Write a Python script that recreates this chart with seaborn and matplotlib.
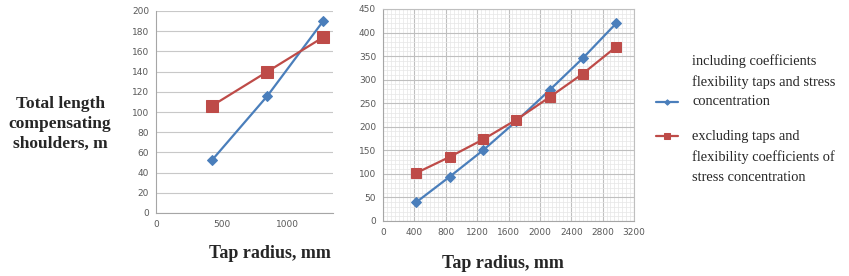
import matplotlib
matplotlib.use("Agg")
import matplotlib.pyplot as plt
import seaborn as sns
import pandas as pd
import numpy as np
from matplotlib.ticker import MultipleLocator
from matplotlib.lines import Line2D

# ---- data ----
radius_left = [425, 850, 1275]
with_coef_left = [52, 116, 190]
without_coef_left = [106, 140, 174]

radius_right = [425, 850, 1275, 1700, 2125, 2550, 2975]
with_coef_right = [40, 94, 150, 212, 278, 346, 420]
without_coef_right = [102, 136, 173, 215, 263, 313, 370]

label_with = "including coefficients\nflexibility taps and stress\nconcentration"
label_without = "excluding taps and\nflexibility coefficients of\nstress concentration"
y_label = "Total length\ncompensating\nshoulders, m"
x_label = "Tap radius, mm"

blue = "#4A7EBB"
red = "#BE4B48"

sns.set_style("white")
plt.rcParams["font.family"] = ["DejaVu Sans"]

W, H = 849, 276
fig = plt.figure(figsize=(W / 100, H / 100), dpi=100)

def px_axes(x0, x1, ytop, ybot):
    return fig.add_axes([x0 / W, 1 - ybot / H, (x1 - x0) / W, (ybot - ytop) / H])

ax1 = px_axes(156, 333, 11, 213)
ax2 = px_axes(383, 634, 9, 221)

df_left = pd.DataFrame({
    "r": radius_left * 2,
    "v": with_coef_left + without_coef_left,
    "s": [label_with] * 3 + [label_without] * 3,
})
df_right = pd.DataFrame({
    "r": radius_right * 2,
    "v": with_coef_right + without_coef_right,
    "s": [label_with] * 7 + [label_without] * 7,
})

pal = {label_with: blue, label_without: red}
mk = {label_with: "D", label_without: "s"}

for ax, df, ms in [(ax1, df_left, (5.5, 8)), (ax2, df_right, (5, 7.5))]:
    for lab in [label_with, label_without]:
        sub = df[df["s"] == lab]
        sns.lineplot(data=sub, x="r", y="v", ax=ax, color=pal[lab], marker=mk[lab],
                     markersize=ms[0] if lab == label_with else ms[1],
                     markeredgecolor=pal[lab], linewidth=1.6, label=lab, legend=False,
                     zorder=3)

tick_color = "#595959"
for ax in (ax1, ax2):
    ax.set_xlabel("")
    ax.set_ylabel("")
    for side in ("top", "right"):
        ax.spines[side].set_visible(False)
    for side in ("left", "bottom"):
        ax.spines[side].set_color("#A6A6A6")
        ax.spines[side].set_linewidth(0.8)
    ax.tick_params(axis="both", labelsize=6.5, colors=tick_color, length=2, width=0.6,
                   pad=3)
    ax.tick_params(axis="both", color="#A6A6A6")

# left chart
ax1.set_xlim(0, 1350)
ax1.set_ylim(0, 200)
ax1.xaxis.set_major_locator(MultipleLocator(500))
ax1.yaxis.set_major_locator(MultipleLocator(20))
ax1.grid(axis="y", color="#C8C8C8", linewidth=0.8)
ax1.set_axisbelow(True)

# right chart
ax2.set_xlim(0, 3200)
ax2.set_ylim(0, 450)
ax2.xaxis.set_major_locator(MultipleLocator(400))
ax2.yaxis.set_major_locator(MultipleLocator(50))
ax2.xaxis.set_minor_locator(MultipleLocator(50))
ax2.yaxis.set_minor_locator(MultipleLocator(10))
ax2.grid(which="major", color="#BFBFBF", linewidth=0.8)
ax2.grid(which="minor", color="#E6E6E6", linewidth=0.5)
ax2.tick_params(which="minor", length=0)
ax2.spines["right"].set_visible(True)
ax2.spines["right"].set_color("#BFBFBF")
ax2.spines["top"].set_visible(True)
ax2.spines["top"].set_color("#BFBFBF")
ax2.set_axisbelow(True)

serif = ["Liberation Serif", "DejaVu Serif"]
fig.text(60 / W, 1 - 124 / H, y_label, ha="center", va="center", fontsize=12.5,
         fontweight="bold", family=serif, linespacing=1.35)
fig.text(270 / W, 1 - 254 / H, x_label, ha="center", va="center", fontsize=13,
         fontweight="bold", family=serif)
fig.text(503 / W, 1 - 264 / H, x_label, ha="center", va="center", fontsize=13,
         fontweight="bold", family=serif)

handles, labels = ax2.get_legend_handles_labels()
leg = fig.legend(handles, labels, loc="upper left", bbox_to_anchor=(643 / W, 1 - 41 / H),
                 frameon=False, prop={"family": serif, "size": 10.4},
                 handlelength=1.5, handletextpad=1.0, labelspacing=1.52,
                 markerscale=0.55)
for t in leg.get_texts():
    t.set_linespacing(1.66)

# move legend handles to the first / last text line like the reference
shift_pt = 14.9
for ln in leg.findobj(Line2D):
    c = matplotlib.colors.to_hex(ln.get_color())
    yd = np.asarray(ln.get_ydata(), dtype=float)
    if c == matplotlib.colors.to_hex(blue):
        ln.set_ydata(yd - shift_pt)
    elif c == matplotlib.colors.to_hex(red):
        ln.set_ydata(yd + shift_pt)

fig.savefig("out.png", dpi=100)
